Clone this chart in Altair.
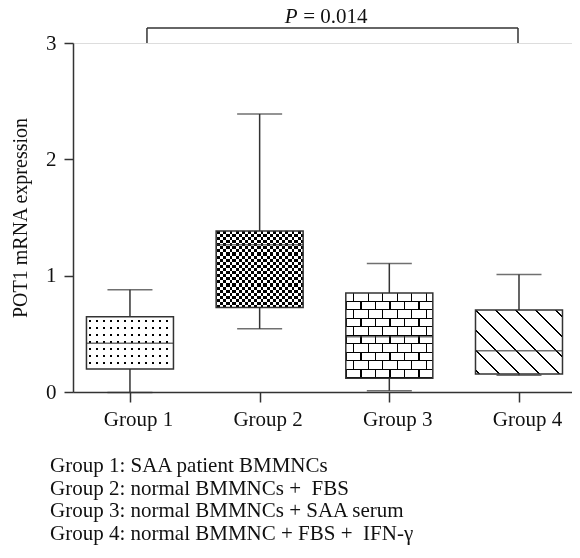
import altair as alt
import pandas as pd

# ---------------- data ----------------
groups = ["Group 1", "Group 2", "Group 3", "Group 4"]
whisker_low = [-0.005, 0.543, 0.011, 0.143]
q1 = [0.197, 0.727, 0.118, 0.155]
median = [0.418, 1.265, 0.475, 0.355]
q3 = [0.646, 1.385, 0.852, 0.704]
whisker_high = [0.88, 2.39, 1.105, 1.01]

bracket_from = ["Group 1"]
bracket_to = ["Group 4"]
bracket_base = [3.0]
bracket_top = [3.13]
p_value_label = ["= 0.014"]
p_symbol = ["P"]
p_label_y = [3.168]

y_ticks = [0, 1, 2, 3]
y_title = "POT1 mRNA expression"
footnote = [
    "Group 1: SAA patient BMMNCs",
    "Group 2: normal BMMNCs + \u00a0FBS",
    "Group 3: normal BMMNCs + SAA serum",
    "Group 4: normal BMMNC + FBS + \u00a0IFN-\u03b3",
]

# ---------------- layout / style ----------------
W, H = 499, 349
YMAX = 3.0
PX = H / YMAX
BOX_W = 87
CAP_W = 45
FONT = "Liberation Serif"
FS = 21
LINE = "#333333"
INK = "#111111"

df = pd.DataFrame({
    "group": groups, "lo": whisker_low, "q1": q1, "med": median,
    "q3": q3, "hi": whisker_high,
})


def xenc(field="group"):
    return alt.X(f"{field}:N", sort=groups,
                 scale=alt.Scale(type="point", padding=0.424, align=0.518, domain=groups),
                 axis=alt.Axis(title=None, labelAngle=0, tickSize=10, labelPadding=6,
                               labelOffset=8, labelFontSize=FS, labelFont=FONT,
                               labelColor=INK, domainColor=LINE, tickColor=LINE,
                               domainWidth=1.5, tickWidth=1.5))


yscale = alt.Scale(domain=[0, YMAX], nice=False, zero=True)


def band_stops(total, period, width, phase, inside, outside):
    """Repeating bands of `inside` colour (texture of a box, pure styling)."""
    iv = []
    k = -3
    while True:
        s = phase + k * period
        if s > total:
            break
        a, b = max(s, 0.0), min(s + width, total)
        if b > a:
            iv.append((a / total, b / total))
        k += 1
    stops = [alt.GradientStop(offset=0.0, color=outside)]
    for a, b in iv:
        stops += [alt.GradientStop(offset=a, color=outside),
                  alt.GradientStop(offset=a, color=inside),
                  alt.GradientStop(offset=b, color=inside),
                  alt.GradientStop(offset=b, color=outside)]
    stops.append(alt.GradientStop(offset=1.0, color=outside))
    return stops


def vgrad(stops):  # bands stacked vertically -> horizontal lines
    return alt.LinearGradient(gradient="linear", x1=0, y1=0, x2=0, y2=1, stops=stops)


def hgrad(stops):  # bands stacked horizontally -> vertical lines
    return alt.LinearGradient(gradient="linear", x1=0, y1=0, x2=1, y2=0, stops=stops)


def box_px(i):
    return (q3[i] - q1[i]) * PX


def box_layer(i, fill, blend=None):
    kw = dict(size=BOX_W, fill=fill, strokeWidth=0)
    if blend:
        kw["blend"] = blend
    return alt.Chart(df).transform_filter(
        alt.datum.group == groups[i]
    ).mark_bar(**kw).encode(
        x=xenc(), y=alt.Y("q1:Q", scale=yscale), y2="q3:Q"
    )


W_ = "#ffffff"
K_ = "#000000"
layers = []

# whiskers
layers.append(alt.Chart(df).mark_rule(color=LINE, strokeWidth=1.5).encode(
    x=xenc(),
    y=alt.Y("lo:Q", scale=yscale,
            axis=alt.Axis(values=y_ticks, format="d", title=y_title, tickSize=9,
                          labelPadding=8, labelFontSize=FS, labelFont=FONT,
                          labelColor=INK, titleFont=FONT, titleFontSize=20,
                          titleFontWeight="normal", titleColor=INK, titlePadding=15,
                          domainColor=LINE, tickColor=LINE, domainWidth=1.5,
                          tickWidth=1.5, grid=False)),
    y2="hi:Q"))
for col in ["lo", "hi"]:
    layers.append(alt.Chart(df).mark_tick(size=CAP_W, thickness=1.5, color=LINE).encode(
        x=xenc(), y=alt.Y(f"{col}:Q", scale=yscale)))

# Group 1: dots
h1 = box_px(0)
layers.append(box_layer(0, vgrad(band_stops(h1, 7.0, 1.8, 3.0, K_, W_))))
layers.append(box_layer(0, hgrad(band_stops(BOX_W, 7.0, 1.8, 3.0, K_, W_)), "lighten"))

# Group 2: checker
h2 = box_px(1)
layers.append(box_layer(1, vgrad(band_stops(h2, 6.2, 2.9, 0.0, W_, K_))))
layers.append(box_layer(1, hgrad(band_stops(BOX_W, 6.2, 2.9, 1.0, W_, K_)), "difference"))

# Group 3: bricks
h3 = box_px(2)
R = 8.5
half = 7.25
layers.append(box_layer(2, hgrad(band_stops(BOX_W, 2 * half, half, half / 2, W_, K_))))
layers.append(box_layer(2, vgrad(band_stops(h3, 2 * R, R, 0.0, W_, K_)), "difference"))
layers.append(box_layer(2, hgrad(band_stops(BOX_W, half, 1.2, half, K_, W_)), "lighten"))
layers.append(box_layer(2, vgrad(band_stops(h3, R, 1.2, R - 0.6, K_, W_)), "darken"))

# Group 4: diagonal hatch "\"
h4 = box_px(3)
r = h4 / BOX_W
lam = (1 + r) / (1 + r * r)
span = BOX_W + h4
t0 = r / (1 + r) * span
hatch = band_stops(span, 20.0, 1.8, t0 - 0.9, K_, W_)
layers.append(box_layer(3, alt.LinearGradient(gradient="linear", x1=0, y1=1,
                                              x2=lam, y2=1 - r * lam, stops=hatch)))

# medians
layers.append(alt.Chart(df).mark_tick(size=BOX_W, thickness=1.5, color=LINE).encode(
    x=xenc(), y=alt.Y("med:Q", scale=yscale)))
# box outlines
layers.append(alt.Chart(df).mark_bar(size=BOX_W, fillOpacity=0, stroke=LINE,
                                     strokeWidth=1.5).encode(
    x=xenc(), y=alt.Y("q1:Q", scale=yscale), y2="q3:Q"))

# significance bracket
br = pd.DataFrame({"a": bracket_from, "b": bracket_to, "y0": bracket_base,
                   "y1": bracket_top})
layers.append(alt.Chart(br).mark_rule(color=LINE, strokeWidth=1.5, xOffset=17,
                                      x2Offset=-1).encode(
    x=xenc("a"), x2="b:N", y=alt.Y("y1:Q", scale=yscale)))
layers.append(alt.Chart(br).mark_rule(color=LINE, strokeWidth=1.5, xOffset=17).encode(
    x=xenc("a"), y=alt.Y("y0:Q", scale=yscale), y2="y1:Q"))
layers.append(alt.Chart(br).mark_rule(color=LINE, strokeWidth=1.5, xOffset=-1).encode(
    x=xenc("b"), y=alt.Y("y0:Q", scale=yscale), y2="y1:Q"))

pt = pd.DataFrame({"g": ["Group 2"], "sym": p_symbol, "lab": p_value_label,
                   "y": p_label_y})
layers.append(alt.Chart(pt).mark_text(font=FONT, fontSize=FS, fontStyle="italic",
                                      align="left", baseline="alphabetic",
                                      xOffset=25, color=INK).encode(
    x=xenc("g"), y=alt.Y("y:Q", scale=yscale), text="sym:N"))
layers.append(alt.Chart(pt).mark_text(font=FONT, fontSize=FS, align="left",
                                      baseline="alphabetic", xOffset=43.5,
                                      color=INK).encode(
    x=xenc("g"), y=alt.Y("y:Q", scale=yscale), text="lab:N"))

chart = alt.layer(*layers).properties(
    width=W, height=H,
    autosize=alt.AutoSizeParams(type="none"),
    padding={"left": 65, "top": 35, "right": 0, "bottom": 158},
    title=alt.TitleParams(text=footnote, orient="bottom", anchor="start",
                          frame="group", dx=-23, offset=26, font=FONT,
                          fontSize=FS, fontWeight="normal", lineHeight=22.7,
                          color=INK),
).configure_view(stroke=None).configure(background="white")

chart.save("out.html", embed_options={"renderer": "svg", "actions": False})
